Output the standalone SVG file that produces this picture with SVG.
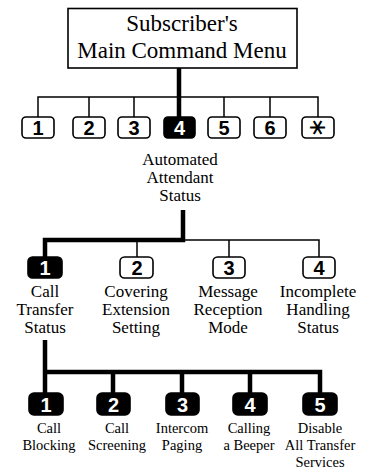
<svg xmlns="http://www.w3.org/2000/svg" width="370" height="473" viewBox="0 0 370 473">
<style>
.t{font-family:"Liberation Serif","Times New Roman",serif;fill:#000;text-anchor:middle}
.h{font-size:23px}
.l1{font-size:17px}
.l2{font-size:17px}
.l3{font-size:14.5px}
.b{fill:#fff;stroke:#000;stroke-width:1.6}
.bf{fill:#000;stroke:#000;stroke-width:1.6}
.d{font-family:"Liberation Sans",Arial,sans-serif;font-weight:bold;font-size:20px;text-anchor:middle;fill:#000}
.dw{font-family:"Liberation Sans",Arial,sans-serif;font-weight:bold;font-size:20px;text-anchor:middle;fill:#fff}
.thin{stroke:#000;stroke-width:1.5;fill:none}
.thick{stroke:#000;stroke-width:4.5;fill:none}
</style>
<rect width="370" height="473" fill="#fff"/>
<g id="connectors">
<path class="thin" d="M38 117V97H318V117M89 97V117M134 97V117M224 97V117M270 97V117"/>
<path class="thick" d="M179 68V118"/>
<path class="thick" d="M183 210V240H45V257"/>
<path class="thin" d="M183 240H319V257M137 240V257M229 240V257"/>
<path class="thick" d="M45 340V393M45 372H320V393M113 372V393M182 372V393M250 372V393"/>
</g>
<g id="main">
<rect x="68" y="8.5" width="229" height="59.5" fill="#fff" stroke="#000" stroke-width="1.6"/>
<text class="t h" x="182" y="31">Subscriber's</text>
<text class="t h" x="182" y="58">Main Command Menu</text>
</g>
<g id="k1"><rect class="b" x="22" y="117" width="32" height="21" rx="4"/><text class="d" x="38" y="135">1</text></g>
<g id="k2"><rect class="b" x="73" y="117" width="32" height="21" rx="4"/><text class="d" x="89" y="135">2</text></g>
<g id="k3"><rect class="b" x="118" y="117" width="32" height="21" rx="4"/><text class="d" x="134" y="135">3</text></g>
<g id="k4"><rect class="bf" x="164" y="117" width="31" height="21" rx="4"/><text class="dw" x="179.5" y="135">4</text>
<text class="t l1" x="180" y="165">Automated</text>
<text class="t l1" x="180" y="183">Attendant</text>
<text class="t l1" x="180" y="201">Status</text>
</g>
<g id="k5"><rect class="b" x="208" y="117" width="32" height="21" rx="4"/><text class="d" x="224" y="135">5</text></g>
<g id="k6"><rect class="b" x="254" y="117" width="32" height="21" rx="4"/><text class="d" x="270" y="135">6</text></g>
<g id="kstar"><rect class="b" x="302" y="117" width="32" height="21" rx="4"/><text x="0" y="0" transform="translate(318 127.5) rotate(90)" font-family="DejaVu Sans,sans-serif" font-size="24" text-anchor="middle" dominant-baseline="central" fill="#000">∗</text></g>

<g id="a1"><rect class="bf" x="28" y="257" width="34" height="21" rx="4.5"/><text class="dw" x="45" y="275">1</text>
<text class="t l2" x="45" y="297">Call</text><text class="t l2" x="45" y="315">Transfer</text><text class="t l2" x="45" y="333">Status</text></g>
<g id="a2"><rect class="b" x="120" y="257" width="33" height="21" rx="4.5"/><text class="d" x="137" y="275">2</text>
<text class="t l2" x="136" y="297">Covering</text><text class="t l2" x="136" y="315">Extension</text><text class="t l2" x="136" y="333">Setting</text></g>
<g id="a3"><rect class="b" x="213" y="257" width="32" height="21" rx="4.5"/><text class="d" x="229" y="275">3</text>
<text class="t l2" x="228" y="297">Message</text><text class="t l2" x="228" y="315">Reception</text><text class="t l2" x="228" y="333">Mode</text></g>
<g id="a4"><rect class="b" x="303" y="257" width="32" height="21" rx="4.5"/><text class="d" x="319" y="275">4</text>
<text class="t l2" x="318" y="297">Incomplete</text><text class="t l2" x="318" y="315">Handling</text><text class="t l2" x="318" y="333">Status</text></g>

<g id="c1"><rect class="bf" x="29" y="393" width="34" height="22" rx="5"/><text class="dw" x="46" y="411.5">1</text>
<text class="t l3" x="49" y="433">Call</text><text class="t l3" x="49" y="450">Blocking</text></g>
<g id="c2"><rect class="bf" x="97" y="393" width="33" height="22" rx="5"/><text class="dw" x="113.5" y="411.5">2</text>
<text class="t l3" x="117" y="433">Call</text><text class="t l3" x="117" y="450">Screening</text></g>
<g id="c3"><rect class="bf" x="166" y="393" width="33" height="22" rx="5"/><text class="dw" x="182.5" y="411.5">3</text>
<text class="t l3" x="182" y="433">Intercom</text><text class="t l3" x="182" y="450">Paging</text></g>
<g id="c4"><rect class="bf" x="233" y="393" width="34" height="22" rx="5"/><text class="dw" x="250" y="411.5">4</text>
<text class="t l3" x="249" y="433">Calling</text><text class="t l3" x="249" y="450">a Beeper</text></g>
<g id="c5"><rect class="bf" x="303" y="393" width="34" height="22" rx="5"/><text class="dw" x="320" y="411.5">5</text>
<text class="t l3" x="320" y="433">Disable</text><text class="t l3" x="320" y="450">All Transfer</text><text class="t l3" x="320" y="467">Services</text></g>
</svg>
